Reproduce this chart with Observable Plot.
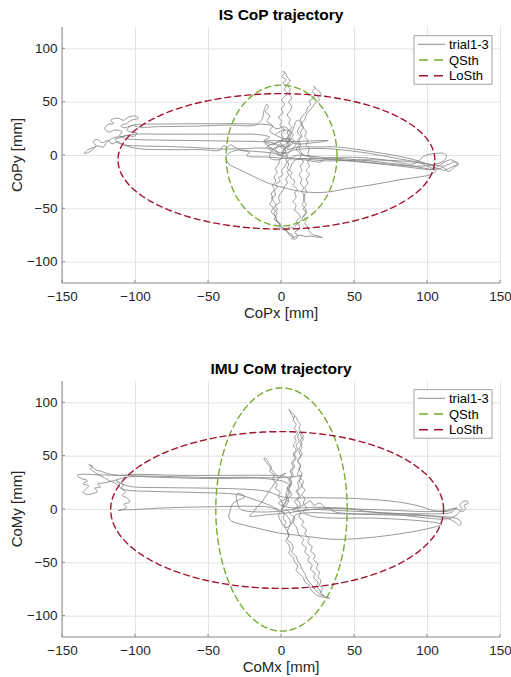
<!DOCTYPE html>
<html>
<head>
<meta charset="utf-8">
<script src="https://cdn.jsdelivr.net/npm/d3@7"></script>
<script src="https://cdn.jsdelivr.net/npm/@observablehq/plot@0.6"></script>
<style>
  html, body { margin: 0; padding: 0; background: #fff; }
  #chart { width: 511px; }
  #chart svg { display: block; }
</style>
</head>
<body>
<div id="chart"></div>
<script>
// ---------- tick values ----------
const xTicks = [-150, -100, -50, 0, 50, 100, 150];
const yTicks = [-100, -50, 0, 50, 100];

// ---------- legend labels ----------
const legendLabels = ["trial1-3", "QSth", "LoSth"];

// ---------- ellipse parameters: [cx, cy, leftSemi, rightSemi, topSemi, bottomSemi] ----------
const copQSth = [0, 0, 38, 38, 66, 66];
const copLoSth = [0, -4, 112, 105, 62, 65];
const comQSth = [0, 0, 45, 45, 114, 114];
const comLoSth = [0, 0, 117, 111, 73, 74];

// ---------- IS CoP trajectories (x, y in mm) ----------
const copTrial1 = [[0,0],[3,4],[-2,9],[-6,12],[-15,13],[-35,13.5],[-60,14],[-85,14.5],[-100,15],[-107,16],[-111,19],[-109,22],[-114,24],[-118,22],[-121,25],[-119,29],[-115,30],[-117,33],[-112,35],[-108,33],[-105,36],[-100,37],[-98,35],[-103,33],[-106,30],[-110,28],[-108,26],[-103,28],[-100,29],[-80,29.5],[-50,29.8],[-20,29.5],[-8,28.5],[-3,25],[2,27],[6,22],[4,16],[8,12],[3,8],[-2,10],[-4,5],[2,2],[8,5],[14,6],[30,6.5],[55,3],[80,-3],[95,-7],[100,-10],[104,-12],[108,-9],[112,-6],[116,-4],[119,-6],[121,-9],[118,-10],[115,-12],[111,-14],[108,-12],[104,-13],[90,-10],[60,-5],[30,-2],[10,0],[5,-4],[3,-8],[2,-11],[0,-14],[1,-18],[-2,-21],[-1,-24],[-4,-27],[-3,-30],[-5,-33],[-4,-37],[-7,-40],[-5,-43],[-4,-47],[-6,-50],[-7,-53],[-4,-57],[-5,-60],[-2,-63],[-1,-66],[2,-69],[4,-71],[5,-74],[8,-76],[7,-78],[10,-78],[11,-75],[9,-72],[12,-69],[12,-65],[10,-62],[13,-58],[12,-55],[9,-51],[10,-47],[8,-43],[10,-39],[9,-35],[11,-32],[8,-28],[9,-24],[6,-20],[7,-16],[4,-12],[5,-8],[3,-4],[4,0],[1,4],[2,8],[-1,12],[1,16],[0,20],[2,24],[-1,28],[0,32],[-2,36],[1,40],[0,44],[2,48],[0,52],[2,55],[4,58],[2,62],[3,65],[1,68],[3,71],[0,74],[2,77],[1,79],[3,77],[4,73],[6,70],[4,66],[6,62],[5,58],[7,54],[5,50],[7,46],[6,42],[4,38],[6,34],[5,30],[7,26],[4,22],[5,18],[3,14],[5,10],[2,6],[3,3],[0,3]];
const copTrial2 = [[-2,2],[-6,6],[-12,7],[-25,6.5],[-40,6],[-60,7.5],[-80,8.5],[-97,9],[-108,10],[-112,13],[-116,11],[-119,14],[-123,12],[-126,15],[-129,13],[-127,9],[-130,7],[-133,5],[-135,2],[-132,3],[-129,6],[-126,9],[-122,8],[-120,12],[-117,15],[-114,17],[-108,18],[-100,20],[-85,20],[-60,20],[-35,20],[-15,19.5],[-8,17],[-12,14],[-6,10],[0,14],[6,11],[4,6],[12,8],[25,8],[38,8],[60,4],[85,-2],[98,-7],[104,-10],[107,-13],[111,-11],[114,-15],[117,-13],[119,-10],[121,-7],[118,-6],[115,-8],[110,-10],[105,-9],[90,-6],[60,-4],[30,-5],[15,-3],[5,-2],[-5,2],[-20,4],[-30,5],[-35,3],[-38,-1],[-36,-8],[-29,-13],[-20,-19],[-9,-26],[4,-31],[15,-34],[30,-34.5],[45,-31],[62,-27.5],[80,-23],[95,-20],[102,-18],[106,-14],[99,-13],[75,-9],[45,-5],[22,-2],[14,1],[10,6],[12,10],[11,14],[13,18],[11,22],[12,26],[14,30],[13,34],[15,38],[17,41],[18,45],[20,48],[19,51],[22,54],[23,57],[21,60],[23,63],[22,65],[24,62],[26,60],[27,57],[25,55],[26,52],[23,49],[21,45],[19,42],[17,38],[16,34],[14,30],[15,26],[13,22],[14,18],[12,14],[13,10],[12,6],[14,2],[13,-2],[15,-6],[13,-10],[14,-14],[12,-18],[14,-22],[13,-26],[15,-30],[14,-34],[16,-38],[15,-42],[17,-46],[15,-50],[17,-54],[15,-57],[14,-60],[12,-63],[10,-65],[8,-68],[5,-67],[3,-70],[0,-69],[-2,-67],[-1,-64],[-3,-61],[-4,-57],[-3,-54],[-5,-51],[-6,-48],[-8,-46],[-7,-43],[-6,-40],[-7,-36],[-5,-32],[-6,-28],[-4,-24],[-5,-20],[-3,-16],[-4,-12],[-2,-8],[-1,-4],[0,-2],[1,3]];
const copTrial3 = [[0,0],[-5,5],[-12,13],[-6,14],[5,13],[18,13.5],[32,14],[22,12],[10,11],[3,15],[-4,19],[-8,23],[-6,28],[-10,32],[-8,37],[-11,41],[-9,45],[-10,48],[-12,42],[-13,35],[-16,30],[-20,28],[-35,28.5],[-60,27.5],[-85,27],[-97,26.5],[-102,28],[-106,24],[-103,22],[-99,21],[-101,18],[-106,19],[-110,17],[-114,15],[-112,12],[-108,10],[-104,8],[-95,6],[-75,5.5],[-55,5.5],[-42,5],[-40,9],[-37,8],[-35,10],[-32,8],[-28,5],[-22,3],[-24,0],[-22,-1],[-10,-1.5],[5,-3],[15,-4],[27,-6],[30,-3],[35,-2],[55,-2],[75,-5],[90,-8],[95,-4],[97,-1],[101,1],[106,2],[111,2],[113,0],[112,-4],[108,-7],[103,-9],[95,-10],[80,-9],[50,-5],[25,-3],[10,-4],[7,-8],[6,-12],[4,-15],[5,-18],[3,-22],[4,-26],[2,-29],[1,-33],[-1,-36],[-2,-40],[-1,-44],[-4,-47],[-3,-51],[-5,-54],[-4,-58],[-3,-62],[-1,-64],[0,-67],[3,-69],[4,-72],[7,-74],[8,-77],[11,-75],[14,-75],[16,-76],[19,-75.5],[22,-76],[25,-76.5],[28,-77],[24,-75],[21,-74],[19,-71],[18,-67],[16,-64],[17,-60],[15,-57],[17,-53],[16,-49],[14,-46],[16,-42],[15,-38],[17,-34],[16,-30],[18,-26],[17,-22],[19,-18],[17,-14],[19,-10],[18,-6],[20,-2],[18,2],[19,6],[17,10],[18,14],[16,18],[17,22],[15,26],[13,30],[12,33],[10,32],[9,29],[8,25],[7,22],[6,18],[5,14],[4,11],[3,7],[1,4],[-1,0],[-6,4],[-10,8],[-4,12],[4,16],[10,12],[6,4],[-2,-4],[-8,-2],[-6,6],[2,10],[8,20],[2,24],[-4,20]];

// ---------- IMU CoM trajectories (x, y in mm) ----------
const comTrial1 = [[0,0],[5,8],[3,15],[6,22],[2,26],[-5,28],[-20,30],[-50,30],[-80,31],[-110,32],[-125,32.5],[-137,33],[-140,32],[-137,29],[-133,27],[-136,24],[-132,22],[-134,19],[-136,16],[-133,14],[-129,15],[-126,17],[-128,20],[-124,21],[-126,24],[-121,25],[-115,27],[-105,30.5],[-80,30],[-50,29],[-20,29.5],[0,30],[10,31],[14,32],[12,27],[14,22],[11,17],[13,12],[9,8],[11,3],[8,-1],[14,-1],[20,0],[40,-1],[70,-3],[95,-5],[108,-7],[115,-9],[119,-12],[122,-15],[123,-12],[121,-9],[114,-7],[100,-6],[70,-5],[40,-4],[20,-3],[10,-5],[8,-9],[7,-13],[5,-17],[4,-21],[5,-25],[3,-29],[5,-33],[6,-37],[5,-41],[8,-45],[9,-49],[11,-53],[10,-57],[13,-61],[15,-64],[16,-68],[19,-71],[20,-75],[22,-78],[25,-81],[28,-82],[33,-83],[29,-81],[27,-78],[28,-74],[26,-71],[27,-67],[25,-63],[26,-59],[24,-55],[25,-51],[22,-47],[23,-43],[20,-39],[21,-35],[18,-31],[19,-27],[16,-23],[17,-19],[14,-15],[15,-11],[12,-7],[13,-3],[11,1],[13,5],[11,9],[12,13],[10,17],[12,21],[11,25],[13,29],[11,33],[12,37],[13,41],[11,45],[13,49],[14,53],[12,57],[14,61],[13,65],[15,69],[13,73],[12,77],[13,80],[11,83],[10,87],[8,86],[7,89],[5,94],[7,91],[9,88],[8,84],[10,80],[9,76],[11,72],[9,68],[10,64],[8,60],[10,56],[8,52],[9,48],[7,44],[8,40],[6,36],[7,32],[5,28],[6,24],[4,20],[5,16],[3,12],[4,8],[2,5],[1,3]];
const comTrial2 = [[-2,0],[-10,5],[-20,10],[-30,14],[-60,16],[-90,17],[-105,18],[-110,20],[-113,24],[-118,27],[-123,31],[-126,33],[-129,36],[-131,38],[-129,40],[-132,42],[-130,40],[-127,37],[-124,36],[-120,34],[-112,32],[-100,33],[-70,32],[-40,32],[-10,32],[2,31],[7,26],[4,20],[7,14],[3,10],[-2,6],[5,2],[25,2],[45,1],[60,-2],[80,-5],[100,-8],[110,-9],[116,-8],[120,-5],[122,-2],[124,1],[122,4],[124,7],[127,8],[128,6],[125,4],[126,1],[124,-2],[121,0],[118,1],[112,-1],[100,-2],[80,-1],[60,0],[35,1],[20,0],[5,-3],[-10,-5],[-22,-6],[-19,-2],[-17,2],[-14,6],[-12,10],[-10,14],[-8,18],[-6,22],[-4,26],[-2,29],[0,32],[3,34],[0,32],[-2,30],[-4,33],[-6,36],[-8,40],[-9,42],[-11,45],[-12,48],[-10,47],[-9,44],[-7,40],[-8,36],[-5,32],[-6,28],[-3,24],[-4,20],[-1,16],[-2,12],[0,8],[1,4],[0,0],[2,-4],[1,-8],[3,-12],[2,-16],[4,-20],[5,-24],[4,-28],[7,-32],[8,-36],[7,-40],[10,-44],[11,-48],[13,-52],[14,-56],[16,-60],[17,-64],[19,-68],[21,-71],[23,-75],[25,-78],[27,-80],[29,-81],[27,-78],[26,-75],[24,-72],[25,-68],[22,-64],[23,-60],[20,-56],[21,-52],[18,-48],[19,-44],[16,-40],[17,-36],[14,-32],[15,-28],[12,-24],[11,-20],[10,-16],[8,-12],[9,-8],[6,-4],[5,-2],[3,0]];
const comTrial3 = [[0,-2],[-8,2],[-20,3],[-50,2.5],[-80,1.5],[-100,0],[-110,-0.6],[-112,-1],[-109,0],[-106,2],[-108,5],[-104,7],[-106,11],[-109,13],[-107,17],[-110,20],[-108,23],[-112,25],[-113,27],[-109,24],[-105,22],[-100,21],[-80,20.5],[-50,20],[-25,19],[-10,17],[0,12],[5,11],[25,11],[55,10],[80,7],[95,3],[104,-1],[111,-2],[116,-1],[120,2],[118,-1],[116,-3],[110,-4],[100,-4],[75,-4],[50,-4],[36,-2],[33,1],[30,2],[26,6],[22,4],[20,8],[16,5],[10,1],[-5,-2],[-20,-2],[-28,0],[-30,5],[-31,12],[-30,15],[-27,14],[-25,12],[-29,9],[-33,6],[-35,0],[-36,-7],[-34,-11],[-27,-14],[-15,-18],[-2,-22],[10,-24],[22,-26],[36,-28],[55,-27],[75,-24],[93,-20],[106,-16],[110,-14],[104,-12],[90,-10],[60,-8],[35,-8],[20,-6],[15,-2],[17,2],[15,6],[16,10],[14,14],[16,18],[14,22],[15,26],[13,30],[14,34],[12,38],[13,42],[11,46],[13,50],[12,54],[14,58],[13,62],[15,66],[13,69],[14,72],[12,71],[11,68],[12,64],[10,60],[11,56],[9,52],[10,48],[8,44],[9,40],[7,36],[8,32],[6,28],[7,24],[5,20],[6,16],[4,12],[3,8],[2,5],[0,-1],[-2,-5],[0,-12],[3,-17],[6,-14],[5,-8],[2,-4],[0,-2]];

// ---------- styles ----------
const FONT = "'Liberation Sans', Arial, Helvetica, sans-serif";
const TEXT = "#262626";
const GRAY = "#808080";
const GREEN = "#77AC30";
const RED = "#A2142F";

function ellipsePts(p) {
  const [cx, cy, l, r, t, b] = p;
  return d3.range(0, 361, 2).map(deg => {
    const a = deg * Math.PI / 180, c = Math.cos(a), s = Math.sin(a);
    return [cx + c * (c >= 0 ? r : l), cy + s * (s >= 0 ? t : b)];
  });
}

function panel({title, xLabel, yLabel, trials, qs, lo, height, marginTop, marginBottom}) {
  const W = 511, ML = 62, MR = 11;
  const plot = Plot.plot({
    width: W, height, marginLeft: ML, marginRight: MR, marginTop, marginBottom,
    style: {fontFamily: FONT, fontSize: "13.5px", color: TEXT, background: "#fff"},
    x: {domain: [-150, 150]},
    y: {domain: [-120, 120]},
    marks: [
      Plot.gridX(xTicks, {stroke: "#e3e3e3", strokeOpacity: 1, strokeWidth: 1}),
      Plot.gridY(yTicks, {stroke: "#e3e3e3", strokeOpacity: 1, strokeWidth: 1}),
      Plot.axisX(xTicks, {tickSize: 0, tickPadding: 8, label: null, fill: TEXT}),
      Plot.axisY(yTicks, {tickSize: 0, tickPadding: 5, label: null, fill: TEXT}),
      ...trials.map(t => Plot.line(t, {x: d => d[0], y: d => d[1], curve: "catmull-rom", stroke: GRAY, strokeWidth: 0.85, strokeOpacity: 0.95})),
      Plot.line(ellipsePts(qs), {x: d => d[0], y: d => d[1], stroke: GREEN, strokeWidth: 1.4, strokeDasharray: "6,4"}),
      Plot.line(ellipsePts(lo), {x: d => d[0], y: d => d[1], stroke: RED, strokeWidth: 1.4, strokeDasharray: "6,4"})
    ]
  });
  const sx = plot.scale("x"), sy = plot.scale("y");
  const svg = d3.select(plot);
  const top = marginTop, bottom = height - marginBottom, left = ML, right = W - MR;
  const g = svg.append("g").attr("text-anchor", "start");
  // axis lines
  g.append("line").attr("x1", left).attr("x2", left).attr("y1", top).attr("y2", bottom).attr("stroke", "#8a8a8a");
  g.append("line").attr("x1", left).attr("x2", right).attr("y1", bottom).attr("y2", bottom).attr("stroke", "#8a8a8a");
  // inward ticks
  xTicks.forEach(v => g.append("line").attr("x1", sx.apply(v)).attr("x2", sx.apply(v)).attr("y1", bottom).attr("y2", bottom - 3).attr("stroke", "#8a8a8a"));
  yTicks.forEach(v => g.append("line").attr("x1", left).attr("x2", left + 3).attr("y1", sy.apply(v)).attr("y2", sy.apply(v)).attr("stroke", "#8a8a8a"));
  // title
  g.append("text").attr("x", (left + right) / 2).attr("y", top - 7).attr("text-anchor", "middle")
    .attr("font-family", FONT).attr("font-weight", "bold").attr("font-size", "15.5px").attr("fill", "#000").text(title);
  // axis labels
  g.append("text").attr("x", (left + right) / 2).attr("y", bottom + 35).attr("text-anchor", "middle")
    .attr("font-family", FONT).attr("font-size", "15px").attr("fill", TEXT).text(xLabel);
  g.append("text").attr("transform", `translate(22,${(top + bottom) / 2}) rotate(-90)`).attr("text-anchor", "middle")
    .attr("font-family", FONT).attr("font-size", "15px").attr("fill", TEXT).text(yLabel);
  // legend
  const lx = 414, ly = top + 8.7, lw = 78, lh = 48.5;
  const lg = g.append("g");
  lg.append("rect").attr("x", lx).attr("y", ly).attr("width", lw).attr("height", lh)
    .attr("fill", "#fff").attr("stroke", "#8c8c8c").attr("stroke-width", 0.8);
  const styles = [[GRAY, null, 0.9], [GREEN, "9,6", 1.4], [RED, "9,6", 1.4]];
  legendLabels.forEach((lab, i) => {
    const yy = ly + 8.6 + i * 15.7;
    const ln = lg.append("line").attr("x1", lx + 4).attr("x2", lx + 31).attr("y1", yy).attr("y2", yy)
      .attr("stroke", styles[i][0]).attr("stroke-width", styles[i][2]);
    if (styles[i][1]) ln.attr("stroke-dasharray", styles[i][1]).attr("stroke-dashoffset", -1);
    lg.append("text").attr("x", lx + 35).attr("y", yy + 4.6).attr("text-anchor", "start")
      .attr("font-family", FONT).attr("font-size", "13px").attr("fill", "#000").text(lab);
  });
  return plot;
}

const chart = document.getElementById("chart");
chart.appendChild(panel({
  title: "IS CoP trajectory", xLabel: "CoPx [mm]", yLabel: "CoPy [mm]",
  trials: [copTrial1, copTrial2, copTrial3], qs: copQSth, lo: copLoSth,
  height: 330, marginTop: 27, marginBottom: 47
}));
chart.appendChild(panel({
  title: "IMU CoM trajectory", xLabel: "CoMx [mm]", yLabel: "CoMy [mm]",
  trials: [comTrial1, comTrial2, comTrial3], qs: comQSth, lo: comLoSth,
  height: 347, marginTop: 51, marginBottom: 40
}));
</script>
</body>
</html>
